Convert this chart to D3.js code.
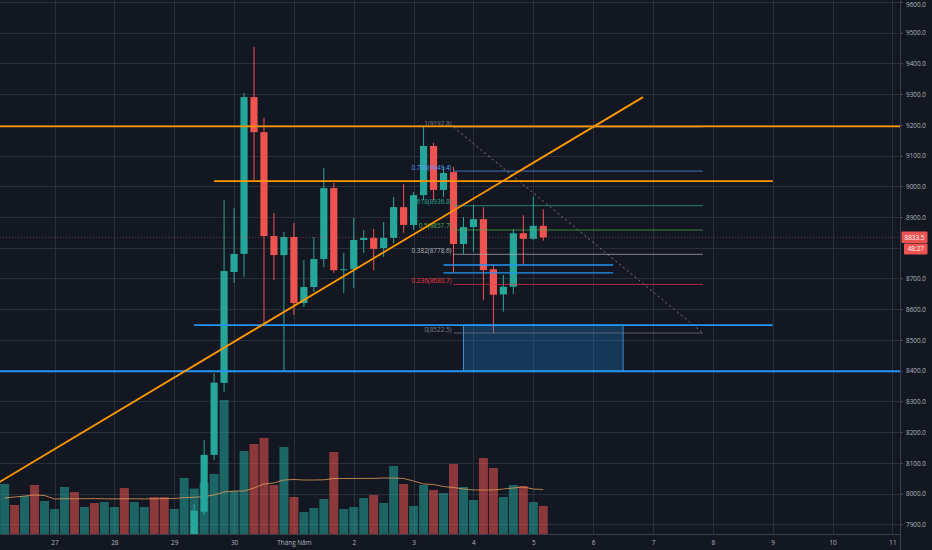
<!DOCTYPE html>
<html>
<head>
<meta charset="utf-8">
<script src="https://cdn.jsdelivr.net/npm/d3@7"></script>
<style>
html, body { margin: 0; padding: 0; background: #131722; }
svg { display: block; font-family: "Open Sans", Roboto, sans-serif; }
</style>
</head>
<body>
<svg id="chart" width="932" height="550"></svg>
<script>
// 4h candles, first one opens 26 Apr 2020 04:00 UTC
var startTime = new Date(Date.UTC(2020, 3, 26, 4));

var opens = [7540,7575,7550,7600,7560,7585,7610,7700,7660,7680,7650,7690,7720,7680,7710,7740,7720,7700,7720,
    7790,7941,8126,8360,8721,8780,9290,9176,8838,8776,8835,8620,8672,8763,8994,8727,8730,8825,8832,8799,
    8832,8932,8874,8971,9131,8988,9046,8812,8867,8893,8730,8648,8673,8847,8829,8871];
var highs = [7590,7600,7620,7630,7600,7625,7720,7730,7700,7700,7710,7740,7760,7730,7760,7760,7740,7740,7820,
    7966,8174,8391,8955,8929,9303,9453,9222,8913,8851,8880,8760,8835,9059,9011,8783,8897,8858,8861,8884,
    8965,9007,8981,9192.8,9141,9063,9063,8900,8939,8932,8744,8711,8860,8906,8966,8925];
var lows = [7520,7530,7540,7550,7545,7575,7600,7640,7650,7630,7640,7680,7660,7670,7700,7700,7680,7690,7710,
    7780,7930,8109,8331,8685,8705,9020,8555,8695,8396,8581,8607,8656,8737,8718,8653,8669,8783,8727,8770,
    8815,8848,8858,8955,8955,8965,8721,8780,8787,8630,8522.5,8592,8649,8744,8825,8823];
var closes = [7575,7550,7600,7560,7585,7610,7700,7660,7680,7650,7690,7720,7680,7710,7740,7720,7700,7720,7790,
    7944,8126,8361,8724,8780,9290,9176,8838,8776,8835,8620,8672,8763,8994,8727,8730,8825,8832,8796,8832,
    8932,8874,8971,9131,8988,9043,8812,8867,8893,8727,8647,8673,8847,8829,8871,8833.5];
var volumes = [5000,2900,3800,4900,3300,2500,4700,4200,2700,3100,3200,2700,4600,3200,2700,3700,3700,2500,5600,
    4550,5100,6000,13400,4300,8300,9000,9600,4900,8700,3700,2200,2600,3500,8200,2500,2700,3600,3900,3100,
    6800,5000,2800,4900,4400,4100,7000,4700,3400,7600,6600,3700,4900,4800,3200,2800];
var volumeMA = [3600,3700,3800,3900,3850,3500,3530,3520,3530,3540,3520,3510,3530,3520,3510,3520,3530,3550,3630,
    3670,3750,3900,4200,4300,4300,4600,5000,5100,5400,5450,5400,5400,5420,5550,5550,5550,5560,5560,5600,
    5600,5550,5300,5000,4950,4750,4650,4500,4400,4400,4400,4500,4600,4700,4500,4450];

var priceTicks = [7900,8000,8100,8200,8300,8400,8500,8600,8700,8800,8900,9000,9100,9200,9300,9400,9500,9600];
var dayLabels = ["27","28","29","30","Tháng Năm","2","3","4","5","6","7","8","9","10","11"];
var dayDates = [[3,27],[3,28],[3,29],[3,30],[4,1],[4,2],[4,3],[4,4],[4,5],[4,6],[4,7],[4,8],[4,9],[4,10],[4,11]]
    .map(function(d){ return new Date(Date.UTC(2020, d[0], d[1])); });

// fibonacci retracement
var fibLevels = ["1","0.786","0.618","0.5","0.382","0.236","0"];
var fibPrices = [9192.8,9049.4,8936.8,8857.7,8778.6,8680.7,8522.5];
var fibColors = ["#787b86","#5b9cf6","#22ab94","#4caf50","#b2b5be","#f23645","#787b86"];
var fibFrom = new Date(Date.UTC(2020, 4, 3, 16));
var fibTo = new Date(Date.UTC(2020, 4, 7, 20));

// drawn levels: price, start, end (null = whole width)
function utc(m, d, h){ return new Date(Date.UTC(2020, m, d, h)); }
var orangeLevels = [[9195, null, null], [9017, utc(3,29,16), utc(4,9,0)]];
var blueLevels = [[8398, null, null], [8548, utc(3,29,8), utc(4,9,0)],
    [8744, utc(4,3,12), utc(4,6,8)], [8718, utc(4,3,12), utc(4,6,8)]];
var trendLine = [[utc(3,26,0), 8028], [utc(4,6,20), 9290]];
var boxZone = [utc(4,3,20), utc(4,6,12), 8548, 8398];
var countdown = "48:27";

var plotRight = 900, plotBottom = 534;
var green = "#26a69a", red = "#ef5350";

var times = opens.map(function(d, i){ return d3.utcHour.offset(startTime, 4 * i); });

var x = d3.scaleUtc()
    .domain([new Date(Date.UTC(2020, 3, 29)), new Date(Date.UTC(2020, 4, 5))])
    .range([174.2, 533.3]);
var y = d3.scaleLinear().domain([8522.5, 9192.8]).range([333, 127]);
var v = d3.scaleLinear().domain([0, 10000]).range([plotBottom, plotBottom - 100]);

var svg = d3.select("#chart");
svg.append("rect").attr("width", 932).attr("height", 550).attr("fill", "#131722");

svg.append("defs").append("clipPath").attr("id", "plot")
    .append("rect").attr("width", plotRight).attr("height", plotBottom);

var plot = svg.append("g").attr("clip-path", "url(#plot)");

// grid
plot.selectAll(".hgrid").data(priceTicks).enter().append("line")
    .attr("x1", 0).attr("x2", plotRight)
    .attr("y1", function(d){ return Math.round(y(d)) + 0.5; })
    .attr("y2", function(d){ return Math.round(y(d)) + 0.5; })
    .attr("stroke", "#2a2e39");
plot.selectAll(".vgrid").data(dayDates).enter().append("line")
    .attr("y1", 0).attr("y2", plotBottom)
    .attr("x1", function(d){ return Math.round(x(d)) + 0.5; })
    .attr("x2", function(d){ return Math.round(x(d)) + 0.5; })
    .attr("stroke", "#2a2e39");

// volume
plot.selectAll(".vol").data(volumes).enter().append("rect")
    .attr("x", function(d, i){ return x(times[i]) - 4.5; })
    .attr("width", 9)
    .attr("y", function(d){ return v(d); })
    .attr("height", function(d){ return plotBottom - v(d); })
    .attr("fill", function(d, i){ return closes[i] >= opens[i] ? green : red; })
    .attr("opacity", 0.55);

plot.append("path")
    .datum(volumeMA)
    .attr("fill", "none")
    .attr("stroke", "#e8a15a")
    .attr("stroke-width", 0.9)
    .attr("opacity", 0.85)
    .attr("d", d3.line().x(function(d, i){ return x(times[i]); }).y(function(d){ return v(d); }));

// candles
var candles = plot.selectAll(".candle").data(opens).enter().append("g");
candles.append("line")
    .attr("x1", function(d, i){ return x(times[i]); })
    .attr("x2", function(d, i){ return x(times[i]); })
    .attr("y1", function(d, i){ return y(highs[i]); })
    .attr("y2", function(d, i){ return y(lows[i]); })
    .attr("stroke", function(d, i){ return closes[i] >= opens[i] ? green : red; })
    .attr("stroke-width", 1);
candles.append("rect")
    .attr("x", function(d, i){ return x(times[i]) - 3.6; })
    .attr("width", 7.2)
    .attr("y", function(d, i){ return y(Math.max(opens[i], closes[i])); })
    .attr("height", function(d, i){ return Math.max(1, Math.abs(y(opens[i]) - y(closes[i]))); })
    .attr("fill", function(d, i){ return closes[i] >= opens[i] ? green : red; });

// last price line
var last = closes[closes.length - 1];
plot.append("line")
    .attr("x1", 0).attr("x2", plotRight)
    .attr("y1", y(last)).attr("y2", y(last))
    .attr("stroke", red).attr("stroke-opacity", 0.45)
    .attr("stroke-dasharray", "1,2");

// blue zone
plot.append("rect")
    .attr("x", x(boxZone[0]))
    .attr("width", x(boxZone[1]) - x(boxZone[0]))
    .attr("y", y(boxZone[2]))
    .attr("height", y(boxZone[3]) - y(boxZone[2]))
    .attr("fill", "rgba(33,150,243,0.25)")
    .attr("stroke", "#3d8fd6").attr("stroke-width", 1);

// fib retracement
plot.append("line")
    .attr("x1", x(fibFrom)).attr("y1", y(fibPrices[0]))
    .attr("x2", x(fibTo)).attr("y2", y(fibPrices[fibPrices.length - 1]))
    .attr("stroke", "#787b86").attr("stroke-width", 1)
    .attr("stroke-dasharray", "2,3");
plot.selectAll(".fib").data(fibPrices).enter().append("line")
    .attr("x1", x(fibFrom)).attr("x2", x(fibTo))
    .attr("y1", function(d){ return y(d); })
    .attr("y2", function(d){ return y(d); })
    .attr("stroke", function(d, i){ return fibColors[i]; })
    .attr("stroke-opacity", 0.7)
    .attr("stroke-width", 1);
plot.selectAll(".fibLabel").data(fibPrices).enter().append("text")
    .attr("x", x(fibFrom) - 2)
    .attr("y", function(d){ return y(d) - 1.5; })
    .attr("text-anchor", "end")
    .attr("font-size", "6.4px")
    .attr("fill", function(d, i){ return fibColors[i]; })
    .text(function(d, i){ return fibLevels[i] + "(" + d.toFixed(1) + ")"; });

function levelLine(l, color, width){
    plot.append("line")
        .attr("x1", l[1] ? x(l[1]) : 0)
        .attr("x2", l[2] ? x(l[2]) : plotRight)
        .attr("y1", y(l[0])).attr("y2", y(l[0]))
        .attr("stroke", color).attr("stroke-width", width);
}
blueLevels.forEach(function(l, i){ levelLine(l, "#2196f3", i < 2 ? 1.8 : 1.4); });
orangeLevels.forEach(function(l){ levelLine(l, "#ff9800", 1.8); });

plot.append("line")
    .attr("x1", x(trendLine[0][0])).attr("y1", y(trendLine[0][1]))
    .attr("x2", x(trendLine[1][0])).attr("y2", y(trendLine[1][1]))
    .attr("stroke", "#ff9800").attr("stroke-width", 1.8);

// price axis
var lastY = y(last);
var ticks = priceTicks.filter(function(d){ return Math.abs(y(d) - lastY) > 14; });
var pAxis = svg.append("g").attr("transform", "translate(" + plotRight + ",0)")
    .call(d3.axisRight(y).tickValues(ticks).tickFormat(d3.format(".1f")).tickSize(3).tickPadding(3));
pAxis.select(".domain").remove();
pAxis.selectAll(".tick line").attr("stroke", "#50535e");
pAxis.selectAll(".tick text").attr("fill", "#b2b5be").attr("font-size", "6.4px")
    .attr("font-family", "'Open Sans', Roboto, sans-serif")
    // keep the top label inside the window
    .attr("dy", function(d){ return y(d) < 4 ? (4 - y(d) + 2.2) + "px" : "0.35em"; });

// time axis
var tAxis = svg.append("g").attr("transform", "translate(0," + plotBottom + ")")
    .call(d3.axisBottom(x).tickValues(dayDates).tickFormat(function(d, i){ return dayLabels[i]; })
        .tickSize(0).tickPadding(6));
tAxis.select(".domain").remove();
tAxis.selectAll(".tick text").attr("fill", "#b2b5be").attr("font-size", "6.4px")
    .attr("font-family", "'Open Sans', Roboto, sans-serif");

// borders
svg.append("line").attr("x1", plotRight + 0.5).attr("x2", plotRight + 0.5)
    .attr("y1", 0).attr("y2", 550).attr("stroke", "#3a3e4a");
svg.append("line").attr("x1", 0).attr("x2", plotRight)
    .attr("y1", plotBottom + 0.5).attr("y2", plotBottom + 0.5).attr("stroke", "#3a3e4a");

// last price tag + countdown
svg.append("rect").attr("x", plotRight + 1.5).attr("y", lastY - 6).attr("width", 26).attr("height", 11.5)
    .attr("fill", red).attr("rx", 1);
svg.append("text").attr("x", plotRight + 14.5).attr("y", lastY).attr("dy", "0.35em")
    .attr("text-anchor", "middle").attr("font-size", "6.4px").attr("fill", "#ffffff")
    .text(d3.format(".1f")(last));
svg.append("rect").attr("x", plotRight + 4).attr("y", lastY + 6).attr("width", 23.5).attr("height", 11)
    .attr("fill", red).attr("rx", 1);
svg.append("text").attr("x", plotRight + 15.8).attr("y", lastY + 11.5).attr("dy", "0.35em")
    .attr("text-anchor", "middle").attr("font-size", "6.4px").attr("fill", "#ffffff")
    .text(countdown);
</script>
</body>
</html>
